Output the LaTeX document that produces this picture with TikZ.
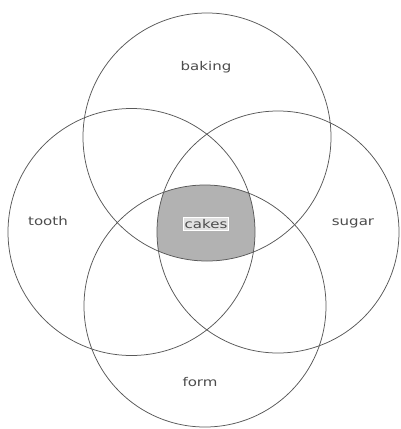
\documentclass[tikz,border=0pt]{standalone}
\usepackage{fontspec}
\setmainfont{DejaVu Sans}[FakeStretch=1.25]
\begin{document}
\begin{tikzpicture}[x=1pt,y=-1pt,
  ring/.style={draw=black!65, line width=0.75pt},
  lab/.style={font=\fontsize{12}{12}\selectfont, text=black!70, inner sep=1pt},
  centrelab/.style={lab, fill=white!88!black, draw=white, line width=0.8pt, inner sep=1.5pt}]
\useasboundingbox (0,0) rectangle (400,429);
\fill[white] (0,0) rectangle (400,429);
\def\Ct{(207,137) circle[radius=124]}
\def\Cl{(131.5,232) circle[radius=123.5]}
\def\Cr{(278,232) circle[radius=121]}
\def\Cb{(205,306) circle[radius=121]}
\begin{scope}
  \clip \Ct; \clip \Cl; \clip \Cr;
  \fill[black!30] \Cb;
\end{scope}
\draw[ring] \Ct;
\draw[ring] \Cl;
\draw[ring] \Cr;
\draw[ring] \Cb;
\node[lab] (baking) at (206,67) {baking};
\node[lab] (tooth) at (48,221) {tooth};
\node[lab] (sugar) at (353,223) {sugar};
\node[lab] (form) at (200,382) {form};
\node[centrelab] (cakes) at (206,224) {cakes};
\end{tikzpicture}
\end{document}
